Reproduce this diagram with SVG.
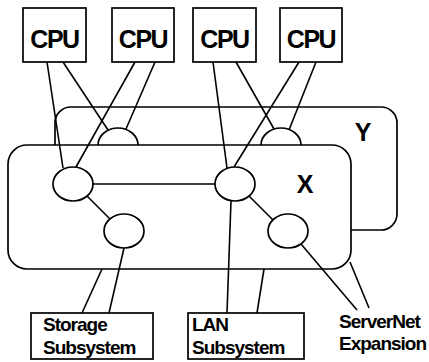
<svg xmlns="http://www.w3.org/2000/svg" width="429" height="362" viewBox="0 0 429 362">
<style>
.s{fill:#fff;stroke:#000;stroke-width:1.7}
.c line{stroke:#000;stroke-width:1.6}
.cpu{font-family:"Liberation Sans",Arial,sans-serif;font-weight:bold;font-size:25px;letter-spacing:-1.5px;text-anchor:middle}
.lbl{font-family:"Liberation Sans",Arial,sans-serif;font-weight:bold;font-size:19px;letter-spacing:-1px}
.big{font-family:"Liberation Sans",Arial,sans-serif;font-weight:bold;font-size:25px;text-anchor:middle}
</style>
<rect width="429" height="362" fill="#fff"/>
<g id="Y">
<rect class="s" x="55" y="107" width="342" height="123" rx="16"/>
<text class="big" x="363" y="141">Y</text>
</g>
<g id="y1"><ellipse class="s" cx="118" cy="145" rx="20" ry="17"/></g>
<g id="y2"><ellipse class="s" cx="281" cy="145" rx="20" ry="17"/></g>
<g id="X">
<rect class="s" x="8" y="145" width="343" height="124" rx="19"/>
<text class="big" x="305" y="193">X</text>
</g>
<g id="x1"><ellipse class="s" cx="73" cy="184" rx="20" ry="17"/></g>
<g id="x2"><ellipse class="s" cx="235" cy="184" rx="20" ry="17"/></g>
<g id="x3"><ellipse class="s" cx="124" cy="231" rx="20" ry="17"/></g>
<g id="x4"><ellipse class="s" cx="288" cy="231" rx="20" ry="17"/></g>
<g id="cpu1"><rect class="s" x="23" y="8" width="63" height="54"/><text class="cpu" x="54.5" y="48">CPU</text></g>
<g id="cpu2"><rect class="s" x="112" y="8" width="62" height="54"/><text class="cpu" x="143" y="48">CPU</text></g>
<g id="cpu3"><rect class="s" x="193" y="8" width="63" height="54"/><text class="cpu" x="224.5" y="48">CPU</text></g>
<g id="cpu4"><rect class="s" x="280" y="8" width="62" height="54"/><text class="cpu" x="311" y="48">CPU</text></g>
<g id="storage"><rect class="s" x="31" y="313" width="122" height="46"/><text class="lbl" x="43" y="331">Storage</text><text class="lbl" x="43" y="354">Subsystem</text></g>
<g id="lan"><rect class="s" x="188" y="313" width="116" height="46"/><text class="lbl" x="192" y="331">LAN</text><text class="lbl" x="192" y="354">Subsystem</text></g>
<g id="servernet"><text class="lbl" x="339" y="328">ServerNet</text><text class="lbl" x="339" y="350">Expansion</text></g>
<g class="c" id="connectors">
<line x1="47" y1="62" x2="63" y2="168"/>
<line x1="63" y1="62" x2="108" y2="130"/>
<line x1="135" y1="62" x2="76" y2="167"/>
<line x1="155" y1="62" x2="126" y2="129"/>
<line x1="213" y1="62" x2="227" y2="168"/>
<line x1="236" y1="62" x2="274" y2="129"/>
<line x1="299" y1="62" x2="234" y2="167"/>
<line x1="316" y1="62" x2="289" y2="130"/>
<line x1="93" y1="184" x2="215" y2="184"/>
<line x1="87" y1="196" x2="110" y2="219"/>
<line x1="249" y1="196" x2="273" y2="220"/>
<line x1="124" y1="248" x2="109" y2="313"/>
<line x1="102" y1="269" x2="82" y2="313"/>
<line x1="231" y1="201" x2="227" y2="313"/>
<line x1="264" y1="269" x2="257" y2="313"/>
<line x1="301" y1="244" x2="357" y2="310"/>
<line x1="350" y1="262" x2="369" y2="308"/>
</g>
</svg>
